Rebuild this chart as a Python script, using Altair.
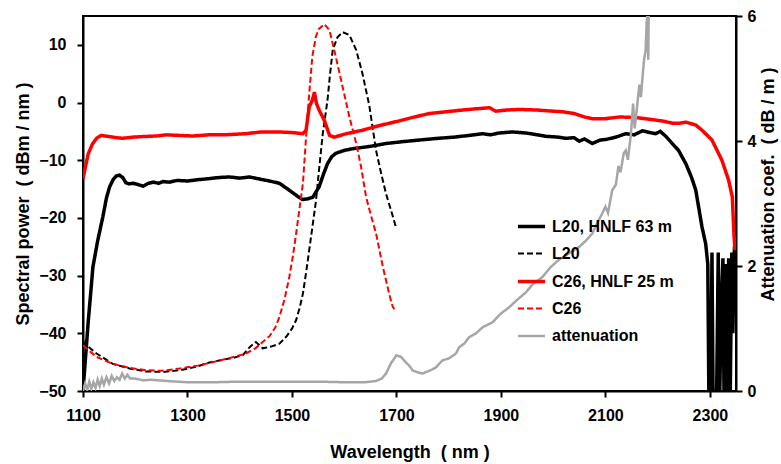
import altair as alt
import pandas as pd

# ---- spectra (dBm/nm) ----
l20_hnlf_wl = [1100, 1105, 1110, 1119, 1128, 1138, 1145, 1151, 1158, 1164, 1170, 1176, 1182, 1188,
               1196, 1205, 1215, 1225, 1235, 1245, 1253, 1265, 1280, 1300, 1317, 1340, 1360, 1380,
               1400, 1419, 1440, 1457, 1476, 1495, 1510, 1520, 1530, 1540, 1552, 1560, 1568, 1576,
               1584, 1600, 1616, 1650, 1680, 1710, 1744, 1780, 1810, 1839, 1865, 1880, 1895, 1922,
               1950, 1986, 2010, 2024, 2040, 2050, 2060, 2075, 2090, 2101, 2120, 2139, 2155, 2171,
               2185, 2196, 2205, 2215, 2228, 2240, 2254, 2265, 2273, 2285, 2292, 2296, 2298, 2302,
               2304, 2306, 2313, 2316, 2319, 2322, 2325, 2327, 2330, 2333, 2336, 2339, 2342, 2344, 2347]
l20_hnlf_db = [-50, -44, -38, -28.5, -24, -19.8, -16.5, -14.6, -13.3, -12.7, -12.6, -13.0, -13.9, -14.1,
               -14.0, -14.2, -14.5, -14.0, -13.8, -14.0, -13.7, -13.8, -13.5, -13.6, -13.4, -13.2, -13.0, -12.9,
               -13.1, -12.9, -13.3, -13.6, -14.0, -15.2, -16.2, -16.8, -16.7, -16.4, -14.6, -12.5, -10.6, -9.4,
               -8.8, -8.3, -8.0, -7.6, -7.1, -6.8, -6.5, -6.2, -6.0, -5.7, -5.4, -5.6, -5.3, -5.1,
               -5.3, -5.85, -6.0, -6.2, -6.1, -6.7, -6.3, -7.1, -6.5, -6.4, -6.0, -5.4, -5.6, -4.9,
               -5.2, -5.4, -5.0, -5.8, -7.1, -8.3, -10.6, -13.0, -15.2, -21.6, -24.5, -28, -50, -50,
               -26, -50, -50, -26, -50, -35, -27, -50, -28, -50, -27, -50, -26, -40, -25]

l20_wl = [1100, 1103, 1126, 1157, 1189, 1220, 1253, 1285, 1317, 1340, 1361, 1390, 1406, 1419, 1431,
          1444, 1460, 1476, 1489, 1500, 1508, 1515, 1521, 1527, 1533, 1540, 1546, 1552, 1559, 1568,
          1573, 1578, 1587, 1597, 1610, 1623, 1635, 1648, 1661, 1670, 1680, 1690, 1699]
l20_db = [-41.2, -41.8, -43.5, -45.3, -46.1, -46.6, -46.7, -46.4, -45.8, -45.1, -44.7, -44.2, -43.8, -42.4, -41.5,
          -42.6, -42.3, -41.8, -40.6, -39.2, -37.7, -35.5, -33.1, -29.5, -25.6, -21.0, -17.0, -11.5, -5.4, 0.4,
          5.0, 9.1, 11.3, 12.2, 11.7, 9.1, 5.0, -0.5, -8.3, -12.0, -15.8, -18.8, -21.6]

c26_hnlf_wl = [1100, 1105, 1110, 1118, 1126, 1135, 1150, 1165, 1176, 1195, 1215, 1240, 1260, 1285, 1310,
               1340, 1370, 1390, 1412, 1440, 1476, 1500, 1521, 1527, 1533, 1539, 1543, 1547, 1552, 1562,
               1572, 1581, 1604, 1635, 1667, 1700, 1730, 1763, 1795, 1826, 1850, 1865, 1878, 1890, 1910,
               1935, 1970, 2000, 2018, 2040, 2060, 2075, 2100, 2127, 2158, 2185, 2209, 2230, 2241, 2254,
               2273, 2285, 2304, 2323, 2336, 2343, 2346, 2348]
c26_hnlf_db = [-13.2, -11.0, -8.9, -7.2, -6.2, -5.7, -5.9, -6.1, -6.2, -6.0, -5.9, -5.8, -5.6, -5.7, -5.8,
               -5.6, -5.6, -5.5, -5.4, -5.1, -5.1, -5.2, -5.4, -4.8, -0.8, 0.4, 1.8, -0.2, -1.3, -3.1,
               -5.7, -6.0, -5.4, -4.8, -4.0, -3.3, -2.6, -1.9, -1.6, -1.3, -1.1, -1.0, -0.9, -1.5, -1.3,
               -1.2, -1.3, -1.5, -1.6, -1.9, -2.5, -2.8, -2.8, -2.5, -2.6, -2.9, -3.2, -3.6, -3.6, -3.4,
               -3.9, -4.8, -6.5, -10.0, -13.5, -16.4, -22.7, -25.6]

c26_wl = [1100, 1126, 1157, 1190, 1221, 1250, 1285, 1320, 1348, 1380, 1412, 1430, 1444, 1457, 1468,
          1476, 1486, 1495, 1502, 1508, 1515, 1521, 1527, 1533, 1539, 1546, 1552, 1562, 1572, 1584,
          1597, 1610, 1623, 1632, 1642, 1651, 1661, 1674, 1686, 1690, 1693, 1696]
c26_db = [-42.1, -44.1, -45.3, -46.0, -46.4, -46.5, -46.1, -45.6, -45.0, -44.3, -43.5, -42.6, -41.5, -40.5, -39.0,
          -37.2, -34.0, -30.2, -26.5, -22.7, -18.0, -14.0, -6.0, 1.5, 8.0, 11.5, 12.8, 13.6, 12.5, 7.9,
          2.7, -2.5, -7.1, -11.0, -16.4, -19.5, -22.7, -28.5, -33.1, -34.5, -35.4, -35.8]

# ---- fibre attenuation (dB/m) ----
att_wl = [1100, 1104, 1108, 1112, 1116, 1120, 1124, 1128, 1132, 1136, 1140, 1145, 1150, 1155, 1160,
          1165, 1170, 1175, 1180, 1185, 1190, 1200, 1215, 1230, 1260, 1300, 1350, 1400, 1450, 1500,
          1550, 1600, 1640, 1661, 1672, 1680, 1690, 1700, 1708, 1718, 1725, 1731, 1740, 1750, 1765,
          1776, 1788, 1800, 1814, 1820, 1830, 1839, 1852, 1865, 1884, 1900, 1916, 1930, 1948, 1960,
          1979, 1995, 2011, 2030, 2049, 2062, 2075, 2085, 2094, 2100, 2105, 2113, 2120, 2125, 2129,
          2135, 2139, 2143, 2149, 2153, 2156, 2160, 2165, 2168, 2171, 2174, 2177, 2179, 2180, 2182,
          2183, 2185]
att_val = [0.0, 0.12, 0.02, 0.15, 0.04, 0.14, 0.05, 0.18, 0.08, 0.2, 0.1, 0.22, 0.12, 0.24, 0.16,
           0.22, 0.18, 0.28, 0.2, 0.26, 0.2, 0.2, 0.17, 0.18, 0.16, 0.14, 0.14, 0.15, 0.15, 0.15,
           0.15, 0.14, 0.14, 0.16, 0.2, 0.28, 0.45, 0.57, 0.55, 0.46, 0.4, 0.33, 0.3, 0.28, 0.33,
           0.38, 0.49, 0.52, 0.6, 0.7, 0.76, 0.86, 0.92, 1.02, 1.1, 1.24, 1.34, 1.45, 1.58, 1.7,
           1.82, 1.98, 2.1, 2.2, 2.3, 2.4, 2.52, 2.7, 2.84, 2.95, 2.85, 3.21, 3.3, 3.6, 3.5,
           3.8, 3.85, 3.7, 4.12, 4.6, 4.2, 4.5, 4.9, 4.7, 5.02, 5.3, 5.45, 5.9, 6.0, 5.3,
           6.1, 6.6]

names = ["L20, HNLF 63 m", "L20", "C26, HNLF 25 m", "C26", "attenuation"]
colors = ["#000000", "#000000", "#ff0000", "#ff0000", "#a6a6a6"]
dashes = [[1, 0], [6, 3], [1, 0], [6, 3], [1, 0]]
widths = [3.5, 2, 3.5, 2, 2.5]

spec = pd.concat([
    pd.DataFrame({"wl": l20_hnlf_wl, "val": l20_hnlf_db, "series": names[0]}),
    pd.DataFrame({"wl": l20_wl, "val": l20_db, "series": names[1]}),
    pd.DataFrame({"wl": c26_hnlf_wl, "val": c26_hnlf_db, "series": names[2]}),
    pd.DataFrame({"wl": c26_wl, "val": c26_db, "series": names[3]}),
])
att = pd.DataFrame({"wl": att_wl, "val": att_val, "series": names[4]})

FONT = "Liberation Sans"
SP = "\u00a0"  # non-collapsing space for the wide gaps around the unit brackets

x_enc = alt.X("wl:Q", scale=alt.Scale(domain=[1100, 2350], nice=False, zero=False),
              axis=alt.Axis(values=[1100, 1300, 1500, 1700, 1900, 2100, 2300], format="d",
                            title=f"Wavelength{SP}{SP}({SP}nm{SP})", titlePadding=20, labelPadding=10))
common = dict(
    color=alt.Color("series:N", scale=alt.Scale(domain=names, range=colors),
                    legend=alt.Legend(title=None)),
    strokeDash=alt.StrokeDash("series:N", scale=alt.Scale(domain=names, range=dashes),
                              legend=alt.Legend(title=None)),
    strokeWidth=alt.StrokeWidth("series:N",
                                scale=alt.Scale(type="ordinal", domain=names, range=widths),
                                legend=alt.Legend(title=None)),
)

left = alt.Chart(spec).mark_line(clip=True).encode(
    x=x_enc,
    y=alt.Y("val:Q", scale=alt.Scale(domain=[-50, 15], nice=False, zero=False),
            axis=alt.Axis(values=[-50, -40, -30, -20, -10, 0, 10],
                          title=f"Spectral power{SP}{SP}({SP}dBm / nm{SP})",
                          titlePadding=6, labelPadding=11)),
    **common,
)

right = alt.Chart(att).mark_line(clip=True).encode(
    x=x_enc,
    y=alt.Y("val:Q", scale=alt.Scale(domain=[0, 6], nice=False),
            axis=alt.Axis(orient="right", values=[0, 2, 4, 6],
                          title=f"Attenuation coef.{SP}{SP}({SP}dB / m{SP})",
                          titleAngle=270, titleBaseline="top", titleY=168,
                          titlePadding=4, labelPadding=5)),
    **common,
)

chart = alt.layer(left, right).resolve_scale(y="independent").properties(
    width=653, height=375,
    autosize=alt.AutoSizeParams(type="none"),
    padding={"left": 83, "top": 16, "right": 45, "bottom": 73},
).configure_view(
    stroke="black", strokeWidth=2
).configure_axis(
    grid=False, domainColor="black", domainWidth=2, tickColor="black", tickWidth=2, tickSize=6,
    labelFont=FONT, labelFontSize=16, labelFontWeight="bold", labelColor="black",
    titleFont=FONT, titleFontSize=18, titleFontWeight="bold", titleColor="black",
    labelFlush=False,
).configure_legend(
    orient="none", legendX=433, legendY=195, padding=0,
    symbolType="stroke", symbolSize=729, rowPadding=4, labelOffset=5,
    labelFont=FONT, labelFontSize=16, labelFontWeight="bold", labelColor="black",
)

chart.save("out.html", embed_options={"renderer": "svg", "actions": False})
